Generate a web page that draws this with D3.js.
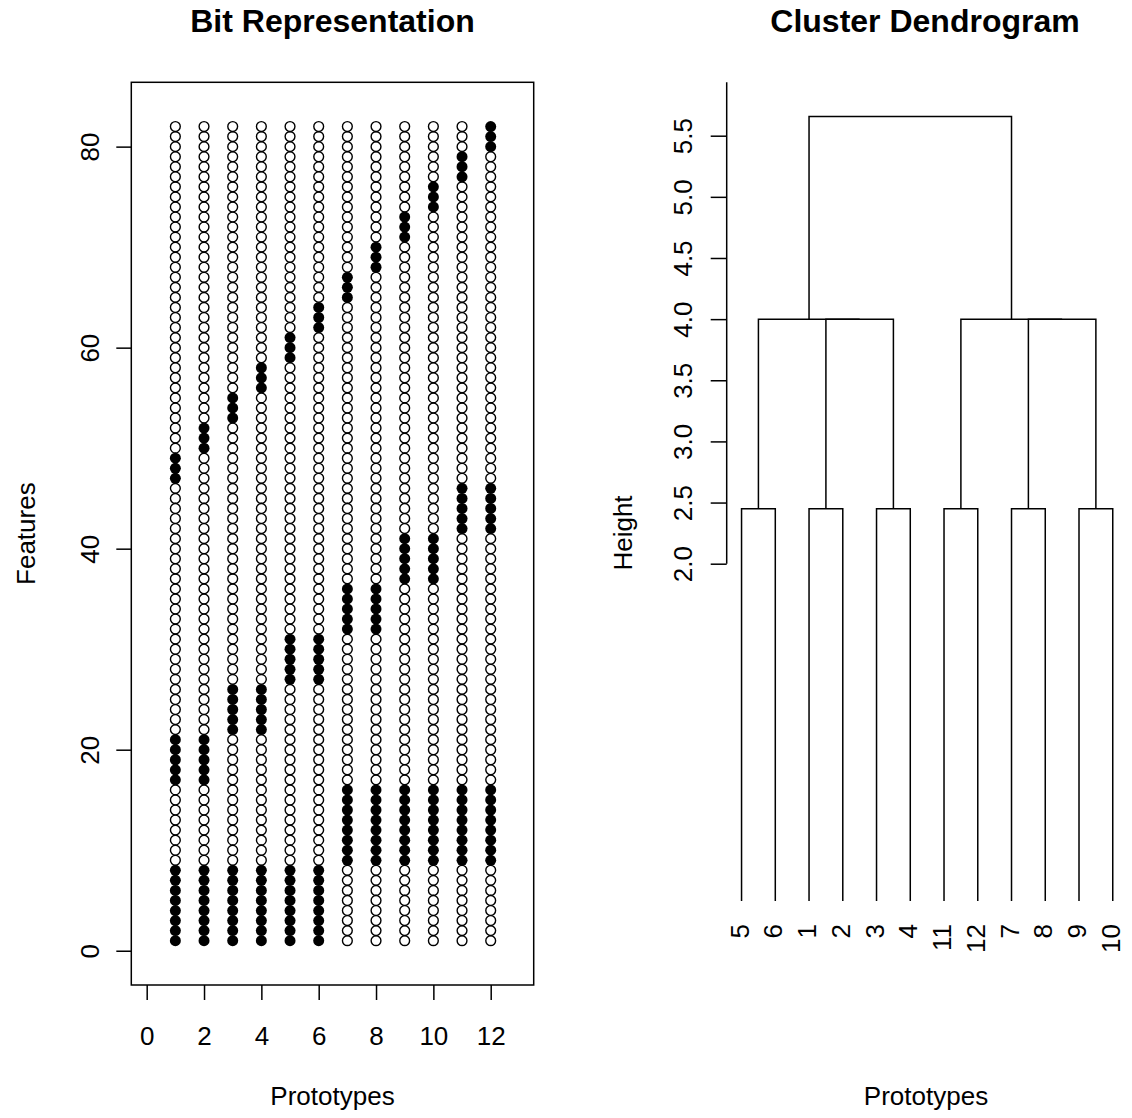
<!DOCTYPE html>
<html><head><meta charset="utf-8">
<script src="https://cdn.jsdelivr.net/npm/d3@7"></script>
<style>
body{margin:0;background:#fff}
svg{display:block}
text{font-family:"Liberation Sans",Arial,sans-serif;fill:#000}
</style>
</head><body>
<svg id="c" width="1132" height="1118"></svg>
<script>
// ---------- data ----------
const prototypes = [1,2,3,4,5,6,7,8,9,10,11,12];
const featureCount = 82;
// ranges of features that are "on" (filled) for each prototype
const onRanges = [
  [[1,8],[17,21],[47,49]],
  [[1,8],[17,21],[50,52]],
  [[1,8],[22,26],[53,55]],
  [[1,8],[22,26],[56,58]],
  [[1,8],[27,31],[59,61]],
  [[1,8],[27,31],[62,64]],
  [[9,16],[32,36],[65,67]],
  [[9,16],[32,36],[68,70]],
  [[9,16],[37,41],[71,73]],
  [[9,16],[37,41],[74,76]],
  [[9,16],[42,46],[77,79]],
  [[9,16],[42,46],[80,82]]
];
const bitXTicks = [0,2,4,6,8,10,12];
const bitYTicks = [0,20,40,60,80];

const leafOrder = ["5","6","1","2","3","4","11","12","7","8","9","10"];
// R-style merge matrix: negative = leaf id, positive = earlier merge (1-based)
const mergePairs = [[-5,-6],[-1,-2],[-3,-4],[-11,-12],[-7,-8],[-9,-10],[2,3],[1,7],[5,6],[4,9],[8,10]];
const mergeHeights = [2.449,2.449,2.449,2.449,2.449,2.449,4.0,4.0,4.0,4.0,5.657];
const heightTicks = [2.0,2.5,3.0,3.5,4.0,4.5,5.0,5.5];
const hang = 1;

const titleLeft = "Bit Representation";
const titleRight = "Cluster Dendrogram";
const xLabel = "Prototypes";
const yLabelLeft = "Features";
const yLabelRight = "Height";

// ---------- drawing ----------
const svg = d3.select("#c");
svg.append("rect").attr("width",1132).attr("height",1118).attr("fill","#fff");
const FS = 26;
const LW = 1.5;

// ===== Left panel =====
const L = {x0:131.3, x1:533.7, y0:82.3, y1:985};
const xL = d3.scaleLinear().domain([-0.537, 13.5]).range([L.x0, L.x1]);
const yL = d3.scaleLinear().domain([-3.41, 86.4]).range([L.y1, L.y0]);

const pts = [];
prototypes.forEach((p,i) => {
  for (let f = 1; f <= featureCount; f++) {
    const on = onRanges[i].some(r => f >= r[0] && f <= r[1]);
    pts.push({p, f, on});
  }
});
const gp = svg.append("g");
gp.selectAll("circle.off").data(pts.filter(d=>!d.on)).join("circle")
  .attr("cx", d=>xL(d.p)).attr("cy", d=>yL(d.f)).attr("r", 4.9)
  .attr("fill","none").attr("stroke","#000").attr("stroke-width",1.4);
gp.selectAll("circle.on").data(pts.filter(d=>d.on)).join("circle")
  .attr("cx", d=>xL(d.p)).attr("cy", d=>yL(d.f)).attr("r", 5.5)
  .attr("fill","#000");

svg.append("rect").attr("x",L.x0).attr("y",L.y0).attr("width",L.x1-L.x0).attr("height",L.y1-L.y0)
  .attr("fill","none").attr("stroke","#000").attr("stroke-width",LW);

const axB = svg.append("g").attr("transform",`translate(0,${L.y1})`)
  .call(d3.axisBottom(xL).tickValues(bitXTicks).tickSize(15).tickPadding(24).tickFormat(d3.format("d")));
axB.select(".domain").remove();
axB.selectAll("line").attr("stroke","#000").attr("stroke-width",LW);
axB.selectAll("text").attr("font-size",FS).attr("font-family","Liberation Sans, Arial, sans-serif")
  .attr("y",null).attr("dy",null).attr("transform","translate(0,60)");

const axLft = svg.append("g").attr("transform",`translate(${L.x0},0)`)
  .call(d3.axisLeft(yL).tickValues(bitYTicks).tickSize(15).tickFormat(d3.format("d")));
axLft.select(".domain").remove();
axLft.selectAll("line").attr("stroke","#000").attr("stroke-width",LW);
axLft.selectAll("text").attr("font-size",FS).attr("font-family","Liberation Sans, Arial, sans-serif")
  .attr("x",null).attr("dy",null).attr("text-anchor","middle")
  .attr("transform","translate(-32,0) rotate(-90)");

svg.append("text").attr("x",(L.x0+L.x1)/2).attr("y",1105).attr("text-anchor","middle")
  .attr("font-size",FS).text(xLabel);
svg.append("text").attr("transform",`translate(35,${(L.y0+L.y1)/2}) rotate(-90)`).attr("text-anchor","middle")
  .attr("font-size",FS).text(yLabelLeft);
svg.append("text").attr("x",(L.x0+L.x1)/2).attr("y",32).attr("text-anchor","middle")
  .attr("font-size",32).attr("font-weight","bold").text(titleLeft);

// ===== Right panel: dendrogram =====
const R = {x0:726.7, x1:1127.6, y0:82.3};
const n = leafOrder.length;
const xD = d3.scaleLinear().domain([1-0.04*(n-1), n+0.04*(n-1)]).range([R.x0, R.x1]);
const yD = d3.scaleLinear().domain([2.0, 5.5]).range([563.7, 135.7]);

const hRange = d3.max(mergeHeights) - d3.min(mergeHeights);
const leafX = id => xD(leafOrder.indexOf(String(id)) + 1);
const nodeX = [];
mergePairs.forEach((pair, i) => {
  const xs = pair.map(c => c < 0 ? leafX(-c) : nodeX[c-1]);
  nodeX[i] = (xs[0] + xs[1]) / 2;
});
const segs = [];
mergePairs.forEach((pair, i) => {
  const h = mergeHeights[i];
  const ch = pair.map(c => c < 0
    ? {x: leafX(-c), h: h - hang*hRange}
    : {x: nodeX[c-1], h: mergeHeights[c-1]});
  segs.push(`M${ch[0].x},${yD(ch[0].h)}V${yD(h)}H${ch[1].x}V${yD(ch[1].h)}`);
});
svg.append("g").selectAll("path").data(segs).join("path")
  .attr("d", d=>d).attr("fill","none").attr("stroke","#000").attr("stroke-width",LW)
  .attr("stroke-linejoin","miter");

// leaf labels
const leafBottom = mergeHeights[0] - hang*hRange;
svg.append("g").selectAll("text").data(leafOrder).join("text")
  .attr("transform",(d,i)=>`translate(${xD(i+1)},${yD(leafBottom)+23}) rotate(-90)`)
  .attr("text-anchor","end").attr("dy","0.27em").attr("font-size",FS).text(d=>d);

const axR = svg.append("g").attr("transform",`translate(${R.x0},0)`)
  .call(d3.axisLeft(yD).tickValues(heightTicks).tickSize(16).tickFormat(d3.format(".1f")));
axR.select(".domain").remove();
axR.selectAll("line").attr("stroke","#000").attr("stroke-width",LW);
axR.selectAll("text").attr("font-size",FS).attr("font-family","Liberation Sans, Arial, sans-serif")
  .attr("x",null).attr("dy",null).attr("text-anchor","middle")
  .attr("transform","translate(-35,0) rotate(-90)");
svg.append("line").attr("x1",R.x0).attr("x2",R.x0).attr("y1",yD(2.0)).attr("y2",R.y0)
  .attr("stroke","#000").attr("stroke-width",LW);

svg.append("text").attr("x",926).attr("y",1105).attr("text-anchor","middle")
  .attr("font-size",FS).text(xLabel);
svg.append("text").attr("transform",`translate(632,533) rotate(-90)`).attr("text-anchor","middle")
  .attr("font-size",FS).text(yLabelRight);
svg.append("text").attr("x",925).attr("y",32).attr("text-anchor","middle")
  .attr("font-size",32).attr("font-weight","bold").text(titleRight);
</script>
</body></html>
